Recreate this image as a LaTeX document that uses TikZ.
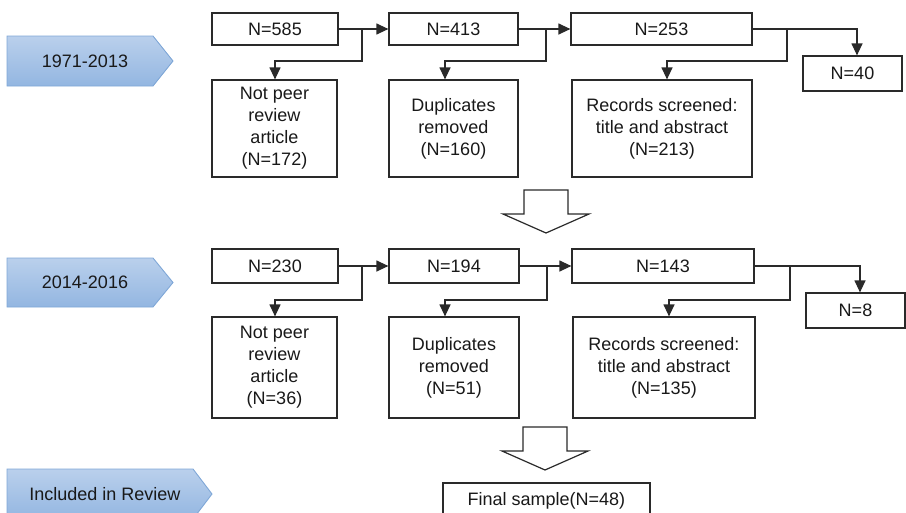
\documentclass[tikz,border=0pt]{standalone}
\usepackage{fontspec}
\setmainfont{Liberation Sans}
\usetikzlibrary{arrows.meta,calc}

\definecolor{lineclr}{HTML}{2A2A2A}
\definecolor{tagtop}{HTML}{BAD0EC}
\definecolor{tagbot}{HTML}{93B6E1}
\definecolor{tagedge}{HTML}{7FA7D7}

\tikzset{
  box/.style={draw=lineclr, line width=1.2pt, fill=white, text=black!90,
    align=center, inner sep=0pt, font=\fontsize{18}{22}\selectfont},
  conn/.style={draw=lineclr, line width=1.2pt},
  arr/.style={conn, -{Triangle[length=12pt,width=11pt]}},
  bigarrow/.style={draw=lineclr, line width=1.2pt, fill=white, line join=miter},
  tag/.style={top color=tagtop, bottom color=tagbot, draw=tagedge, line width=0.9pt},
  tagtext/.style={text=black!90, font=\fontsize{18}{22}\selectfont, inner sep=0pt},
}

\newcommand{\boxat}[5]{% name, x, y, width, height, text follows
  \node[box, minimum width=#4pt, minimum height=#5pt] (#1) at (#2,#3)}

\begin{document}
\begin{tikzpicture}[x=1pt, y=-1pt]
\useasboundingbox (0,0) rectangle (906,512);

% period tags on the left
\shade[tag] (7,36) -- (153,36) -- (173,61) -- (153,86) -- (7,86) -- cycle;
\node[tagtext] (tagA) at (85,61) {1971-2013};
\shade[tag] (7,258) -- (153,258) -- (173,282.5) -- (153,307) -- (7,307) -- cycle;
\node[tagtext] (tagB) at (85,282.5) {2014-2016};
\shade[tag] (7,469) -- (193,469) -- (212,494) -- (193,519) -- (7,519) -- cycle;
\node[tagtext] (tagC) at (105,494) {Included in Review};

% first period
\boxat{a1}{275}{29}{126}{32} {N=585};
\boxat{a2}{453.5}{29}{129}{32} {N=413};
\boxat{a3}{661.5}{29}{181}{32} {N=253};
\boxat{a4}{852.5}{73.5}{99}{35} {N=40};
\boxat{x1}{274.5}{128.5}{125}{97} {Not peer\\review\\article\\(N=172)};
\boxat{x2}{453.5}{128.5}{129}{97} {Duplicates\\removed\\(N=160)};
\boxat{x3}{662}{128.5}{180}{97} {Records screened:\\title and abstract\\(N=213)};

\draw[arr] (a1.east) -- (a2.west);
\draw[arr] (362,0 |- a1.east) |- (275,61) -- (275,0 |- x1.north);
\draw[arr] (a2.east) -- (a3.west);
\draw[arr] (546,0 |- a2.east) |- (445,61) -- (445,0 |- x2.north);
\draw[arr] (a3.east) -- (857,0 |- a3.east) -- (857,0 |- a4.north);
\draw[arr] (787,0 |- a3.east) |- (667,61) -- (667,0 |- x3.north);

% transition arrow between periods
\draw[bigarrow] (524,190) -- (568,190) -- (568,214) -- (589,214) -- (546,233)
  -- (503,214) -- (524,214) -- cycle;

% second period
\boxat{b1}{275}{266}{126}{34} {N=230};
\boxat{b2}{454}{266}{130}{34} {N=194};
\boxat{b3}{663}{266}{182}{34} {N=143};
\boxat{b4}{855.5}{310.5}{99}{35} {N=8};
\boxat{y1}{274.5}{367.5}{125}{101} {Not peer\\review\\article\\(N=36)};
\boxat{y2}{454}{367.5}{130}{101} {Duplicates\\removed\\(N=51)};
\boxat{y3}{664}{367.5}{182}{101} {Records screened:\\title and abstract\\(N=135)};

\draw[arr] (b1.east) -- (b2.west);
\draw[arr] (362,0 |- b1.east) |- (275,300) -- (275,0 |- y1.north);
\draw[arr] (b2.east) -- (b3.west);
\draw[arr] (547,0 |- b2.east) |- (445,300) -- (445,0 |- y2.north);
\draw[arr] (b3.east) -- (860,0 |- b3.east) -- (860,0 |- b4.north);
\draw[arr] (790,0 |- b3.east) |- (669,300) -- (669,0 |- y3.north);

% arrow to the final sample
\draw[bigarrow] (523,427) -- (567,427) -- (567,451) -- (588,451) -- (545,470)
  -- (502,451) -- (523,451) -- cycle;

\boxat{f1}{546.5}{501}{207}{36} {Final sample(N=48)};
\end{tikzpicture}
\end{document}
